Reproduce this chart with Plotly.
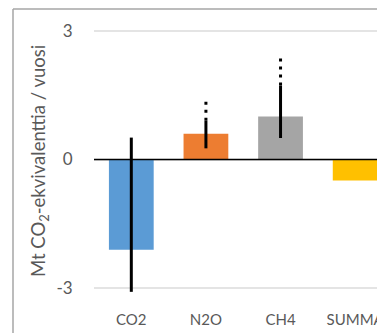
import plotly.graph_objects as go

categories = ["CO2", "N2O", "CH4", "SUMMA"]
values = [-2.10, 0.60, 1.00, -0.49]
colors = ["#5B9BD5", "#ED7D31", "#A5A5A5", "#FFC000"]
err_low = [-3.08, 0.26, 0.50, None]
err_high = [0.51, 0.90, 1.72, None]
err_ext = [None, 1.45, 2.46, None]
y_ticks = [-3, 0, 3]
y_title = "Mt CO<sub>2</sub>-ekvivalenttia / vuosi"

FONT = "Lato, Carlito, Calibri, sans-serif"
TXT = "#595959"

fig = go.Figure()
fig.add_trace(go.Bar(x=categories, y=values, marker=dict(color=colors, line=dict(width=0)),
                     width=0.6, showlegend=False, hoverinfo="skip"))

for c, lo, hi, ex in zip(categories, err_low, err_high, err_ext):
    if lo is not None and hi is not None:
        fig.add_trace(go.Scatter(x=[c, c], y=[lo, hi], mode="lines",
                                 line=dict(color="black", width=3), showlegend=False, hoverinfo="skip"))
    if ex is not None:
        fig.add_trace(go.Scatter(x=[c, c], y=[hi, ex], mode="lines",
                                 line=dict(color="black", width=3, dash="3px,5px"),
                                 showlegend=False, hoverinfo="skip"))

OFF = 8  # page body margin
W, H = 385 - OFF, 333 - OFF
ml, mt = 94 - OFF, 22 - OFF
mb = H - (297 - OFF)
mr = 0
pw, ph = W - ml - mr, H - mt - mb

def px(xs):
    return (xs - OFF - ml) / pw

def py(ys):
    return (H - mb - (ys - OFF)) / ph

fig.update_layout(
    width=W, height=H,
    margin=dict(l=ml, r=mr, t=mt, b=mb, pad=0),
    paper_bgcolor="white", plot_bgcolor="white",
    font=dict(family=FONT, color=TXT, size=15),
    xaxis=dict(range=[-0.5, 3.4], showgrid=False, zeroline=False, showline=False,
               ticks="outside", ticklen=9, tickcolor="rgba(0,0,0,0)",
               tickfont=dict(size=15, color=TXT, family=FONT)),
    yaxis=dict(range=[-3.2, 3.2], tickvals=y_ticks, ticktext=[str(t) for t in y_ticks],
               showgrid=True, gridcolor="#E4E4E4", gridwidth=2, zeroline=False, showline=False,
               ticks="outside", ticklen=17, tickcolor="rgba(0,0,0,0)",
               tickfont=dict(size=17, color=TXT, family=FONT)),
    shapes=[
        dict(type="line", xref="paper", yref="y", x0=0, x1=1, y0=0, y1=0,
             line=dict(color="black", width=1.5), layer="above"),
        dict(type="line", xref="paper", yref="paper", x0=px(13), x1=px(400), y0=py(9), y1=py(9),
             line=dict(color="#A6A6A6", width=1.5), layer="above"),
        dict(type="line", xref="paper", yref="paper", x0=px(13), x1=px(13), y0=py(9), y1=py(345),
             line=dict(color="#A6A6A6", width=1.5), layer="above"),
    ],
    annotations=[
        dict(text=y_title, xref="paper", yref="paper", x=px(40), y=py(161), textangle=-90,
             showarrow=False, xanchor="center", yanchor="middle",
             font=dict(size=18.5, color=TXT, family=FONT)),
    ],
)

fig.write_html("out.html")
